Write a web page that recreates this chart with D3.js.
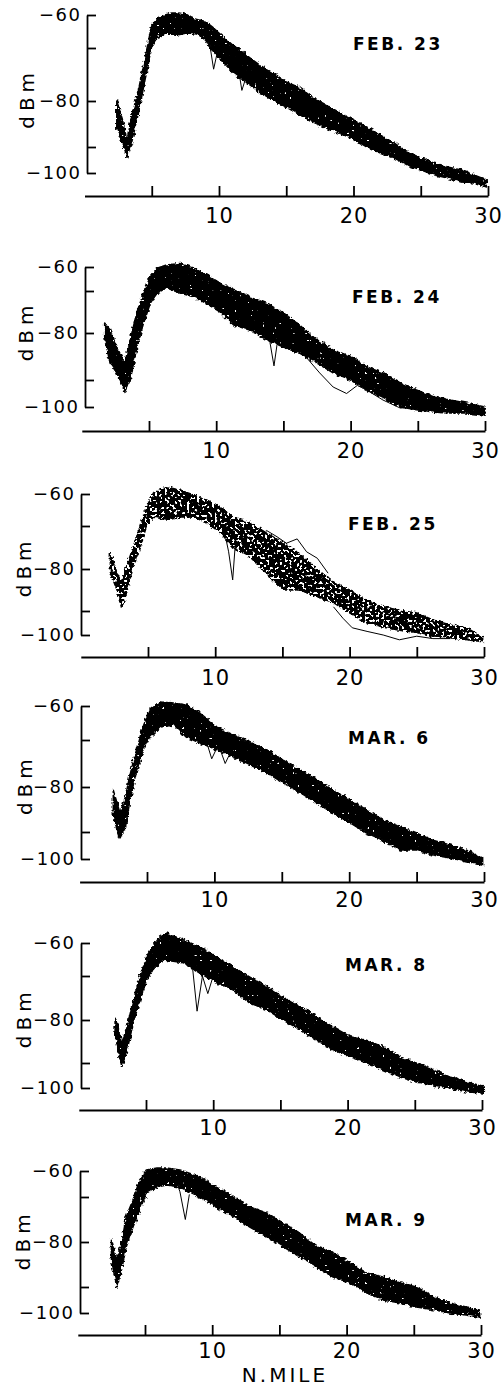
<!DOCTYPE html>
<html><head><meta charset="utf-8">
<script src="https://cdn.jsdelivr.net/npm/d3@7"></script>
<style>
html,body{margin:0;padding:0;background:#fff;}
svg{display:block;}
.yax text{font-family:"DejaVu Sans",sans-serif;font-size:18px;letter-spacing:1.5px;fill:#000;}
.xax text{font-family:"DejaVu Sans",sans-serif;font-size:21px;letter-spacing:1px;fill:#000;}
.yax path,.yax line,.xax path,.xax line{stroke:#000;stroke-width:1.8px;}
</style></head>
<body>
<svg id="c" width="504" height="1387"></svg>
<script>
// ---- data ----
const dates = ["FEB. 23","FEB. 24","FEB. 25","MAR. 6","MAR. 8","MAR. 9"];
const yTickValues = [-60,-70,-80,-90,-100];
const xTickValues = [5,10,15,20,25,30];
const xLabel = "N.MILE";
const yLabel = "dBm";

// upper (hi) and lower (lo) edge of the bundle of traces, dBm vs nautical miles
const dist1 = [2.4,2.8,3.15,3.5,4,4.5,5,5.5,6,6.5,7,7.5,8,8.5,9,9.5,10,11,12,13,14,15,16,17,18,19,20,21,22,23,24,25,26,27,28,29,29.9];
const hi1 = [-80,-83.8,-88.7,-83.3,-78.1,-71.9,-63,-61,-60,-59.4,-59.4,-59.8,-61,-61.5,-62,-63.6,-65.5,-69,-71.3,-73.2,-74.7,-76.4,-77.5,-79.4,-80.9,-82.6,-84.1,-85.7,-87.4,-89.1,-91.9,-94.2,-96.2,-97.7,-98.8,-100.8,-102.7];
const lo1 = [-86,-89.1,-93.8,-89.1,-82.8,-76,-69.7,-66.7,-65.5,-65.5,-66,-65.5,-65.5,-66,-67.6,-70.4,-71.9,-74.5,-76.4,-78.3,-79.8,-81.3,-83,-84.6,-85.9,-87,-88.3,-90,-92.3,-94.2,-96.9,-98.8,-100.8,-101.9,-103.5,-103.8,-105.4];

const dist2 = [1.7,2.1,2.6,3.2,3.6,4.1,4.6,5.1,5.6,6.3,7.3,8.3,9.3,10.3,11.3,12.5,13.8,15,16.2,17.5,18.7,20,21.2,22.4,23.7,24.9,26.2,27.4,28.6,30];
const hi2 = [-77.6,-79.3,-83,-86.4,-81.5,-75,-70.5,-64,-60.5,-59.2,-58.5,-60.5,-63.3,-66.7,-69.6,-71.4,-73,-75.2,-78.1,-81.5,-83.6,-85,-87.2,-88.5,-91.1,-93.7,-96.3,-97.4,-98.5,-100];
const lo2 = [-81,-86.4,-88.5,-94.3,-90,-83,-77.6,-72.9,-70.5,-68.7,-70.5,-71.4,-73,-75,-78.1,-79.3,-81.5,-83,-84.3,-86.4,-88.5,-90,-93.7,-96.3,-100,-101,-101.9,-102.2,-102.2,-103];

const dist3 = [2.2,2.7,3.04,3.4,3.9,4.4,4.9,5.4,6.4,7.4,8.4,9.4,10.4,11.3,12.6,13.8,15.1,16.3,17.6,18.8,20,21.3,22.5,23.7,25,26.2,27.5,28.7,29.9];
const hi3 = [-76.3,-81,-83.3,-79.5,-74.9,-70.2,-64,-59.7,-57.8,-58.8,-60.3,-61.9,-64,-67.2,-69,-71.6,-74,-76.5,-80,-83.3,-85,-87.4,-89,-89.8,-90.8,-93.7,-95.8,-97,-100.8];
const lo3 = [-81,-85,-89.3,-85.7,-79.5,-74.9,-70,-67.2,-68.1,-67.2,-67.2,-69,-71.6,-74.9,-77.2,-81,-85,-85,-86.7,-88,-90.8,-95,-96.7,-98,-99,-100.8,-101.2,-102,-102.8];

const dist4 = [2.5,3,3.4,3.7,4.2,4.7,5.2,6,7,7.9,8.9,10.2,11.4,12.6,13.9,15.1,16.4,17.6,18.8,20.1,21.3,22.5,23.8,25,26.2,27.5,28.7,29.9];
const hi4 = [-80.7,-85.8,-82.2,-77.9,-72.1,-66.2,-61.2,-58.8,-59.1,-59.7,-62,-66.2,-68.5,-70.4,-72.1,-74.3,-76.4,-78.5,-80.7,-82.9,-85.1,-87.3,-88.9,-90.4,-93,-94.8,-96.7,-99.6];
const lo4 = [-86.7,-92.2,-88.9,-83.6,-77,-72.1,-69.1,-66.2,-65.6,-69.1,-70.6,-72.1,-73.6,-75.3,-77,-79.1,-81.3,-83.6,-85.8,-88,-90.4,-93,-96.7,-96.7,-98.5,-99.6,-101.1,-102.2];

const dist5 = [2.7,3.2,3.6,4.05,4.55,5.05,5.5,6,6.5,7.8,9,10.3,11.5,12.7,14,15.2,16.5,17.7,18.9,20.2,21.4,22.7,23.9,25.1,26.4,27.6,28.9,30.1];
const hi5 = [-79.3,-85.3,-81.6,-75.5,-70.2,-64.2,-61.2,-58.2,-57,-59.1,-61.2,-64.2,-67.3,-70.2,-72.5,-74.8,-77,-79.3,-81.6,-83.9,-84.7,-86.3,-88.6,-90,-92.8,-95.6,-97.6,-99.6];
const lo5 = [-83,-91.6,-86.9,-80.7,-75.5,-70.9,-68.2,-66,-65.2,-66,-69.1,-71.6,-73.2,-76.1,-77.7,-80,-82.3,-84.7,-86.9,-88.6,-90,-92.8,-95.6,-97.6,-98.8,-100,-101.6,-102];

const dist6 = [2.5,2.9,3.3,3.6,4.1,4.6,5.1,5.9,6.6,7.6,9.1,10.3,11.6,12.8,14.1,15.3,16.5,17.8,19,20.3,21.5,22.7,24,25.2,26.5,27.7,28.9,29.9];
const hi6 = [-79.6,-84,-79.6,-74.4,-70.7,-63.5,-59.6,-58.8,-58.8,-59.6,-62.3,-66.2,-70,-72.2,-73.6,-75.8,-78,-81.1,-82.4,-84.7,-86.9,-87.8,-89.1,-90,-93.8,-96.2,-97.7,-98.8];
const lo6 = [-84,-90,-85.6,-81.1,-76.7,-72.9,-68.5,-66.2,-65.4,-66.2,-70,-72.2,-74.4,-76.7,-78.9,-81.1,-83.3,-85.6,-87.8,-89.1,-92.3,-95,-96.2,-97.7,-98.8,-100,-100.8,-101.5];

// stray single traces that leave the bundle
const strayDist1 = [9.2,9.6,10.0,10.6,11.2,11.7,12.2];
const strayVal1  = [-66,-74,-69,-72,-70,-78,-74];
const strayDist2 = [13.6,14.0,14.3,14.6,15.0];
const strayVal2  = [-80,-82,-87,-81,-82];
const lowDist2   = [16.5,17.7,18.7,19.7,20.5,21.2,22.4,23.7,24.8];
const lowVal2    = [-84.5,-88.5,-92.6,-95,-92,-93.7,-97.4,-100.4,-100];
const strayDist3 = [10.6,11.0,11.3,11.5,11.8];
const strayVal3  = [-70,-76,-82.6,-74,-74];
const lowDist3   = [18.8,19.5,20.2,21.3,22.5,23.7,25,26.2,27.5];
const lowVal3    = [-89,-93,-97,-98.5,-100,-102,-100.5,-101.5,-101.5];
const highDist3  = [13.8,14.6,15.3,16.1,16.8,17.6,18.4];
const highVal3   = [-71,-72.5,-74,-73,-76,-77.5,-81];
const strayDist4 = [9.3,9.8,10.3,10.8,11.3];
const strayVal4  = [-69,-74,-71,-75,-72];
const strayDist5 = [8.4,8.8,9.2,9.6,10.0];
const strayVal5  = [-65,-78,-70,-74,-70];
const strayDist6 = [7.2,7.6,8.0,8.3];
const strayVal6  = [-62,-68,-75,-69];

const series = [[dist1,hi1,lo1],[dist2,hi2,lo2],[dist3,hi3,lo3],[dist4,hi4,lo4],[dist5,hi5,lo5],[dist6,hi6,lo6]];
const strays = [
  [[strayDist1,strayVal1]],
  [[strayDist2,strayVal2],[lowDist2,lowVal2]],
  [[strayDist3,strayVal3],[lowDist3,lowVal3],[highDist3,highVal3]],
  [[strayDist4,strayVal4]],
  [[strayDist5,strayVal5]],
  [[strayDist6,strayVal6]]
];

// ---- layout ----
const layout = [
 {yr:[15,48,101,147,173],    xr:[84.5,488], axisY:196,  yAxisX:87, pad:12, dateX:353, dateY:50,   dbmX:34, tex:"rough"},
 {yr:[267,291,333,380,407],  xr:[81.8,485], axisY:431,  yAxisX:85, pad:12, dateX:352, dateY:303,  dbmX:33, tex:"rough"},
 {yr:[494,526,569,611,635],  xr:[80.8,484], axisY:657,  yAxisX:81, pad:13, dateX:348, dateY:530,  dbmX:31, tex:"mesh"},
 {yr:[706,740,787,832,859],  xr:[79.6,484], axisY:882,  yAxisX:81, pad:10, dateX:348, dateY:744,  dbmX:32, tex:"rough"},
 {yr:[943,976,1020,1063,1088],xr:[78.8,482],axisY:1110, yAxisX:81, pad:10, dateX:345, dateY:971,  dbmX:31, tex:"rough"},
 {yr:[1171,1197,1242,1287,1313],xr:[77.8,481],axisY:1335,yAxisX:80, pad:8, dateX:345, dateY:1226, dbmX:30, tex:"rough"}
];

const svg = d3.select("#c");
svg.append("rect").attr("width",504).attr("height",1387).attr("fill","#fff");

const defs = svg.append("defs");
function makeFilter(id, holeA, holeB){
  const f = defs.append("filter").attr("id",id).attr("filterUnits","userSpaceOnUse")
    .attr("x",0).attr("y",0).attr("width",504).attr("height",1387);
  f.append("feTurbulence").attr("type","fractalNoise").attr("baseFrequency","0.3").attr("numOctaves",2).attr("seed",4).attr("result","n");
  f.append("feDisplacementMap").attr("in","SourceGraphic").attr("in2","n").attr("scale",5)
    .attr("xChannelSelector","R").attr("yChannelSelector","G").attr("result","d");
  f.append("feTurbulence").attr("type","fractalNoise").attr("baseFrequency","0.4").attr("numOctaves",1).attr("seed",11).attr("result","h");
  f.append("feColorMatrix").attr("in","h").attr("type","matrix")
    .attr("values",`0 0 0 0 0  0 0 0 0 0  0 0 0 0 0  ${holeA} 0 0 0 ${holeB}`).attr("result","hm");
  f.append("feComposite").attr("in","d").attr("in2","hm").attr("operator","in");
}
makeFilter("rough", -30, 22.5);
makeFilter("mesh", -30, 18.5);

layout.forEach((L,i)=>{
  const x = d3.scaleLinear().domain([0,30]).range(L.xr);
  const y = d3.scaleLinear().domain(yTickValues).range(L.yr);
  const g = svg.append("g");

  const [ds,hs,ls] = series[i];
  const rows = ds.map((d,k)=>({d, hi:hs[k], lo:ls[k]}));
  const area = d3.area().x(r=>x(r.d)).y0(r=>y(r.lo)).y1(r=>y(r.hi)).curve(d3.curveLinear);
  g.append("path").datum(rows).attr("d",area).attr("fill","#000")
    .attr("stroke","#000").attr("stroke-width",1.5).attr("stroke-linejoin","round")
    .attr("filter",`url(#${L.tex})`);

  const line = d3.line().x(p=>x(p[0])).y(p=>y(p[1])).curve(d3.curveLinear);
  strays[i].forEach(([sd,sv])=>{
    g.append("path").datum(sd.map((d,k)=>[d,sv[k]])).attr("d",line)
      .attr("fill","none").attr("stroke","#000").attr("stroke-width",1);
  });

  // y axis
  g.append("g").attr("class","yax").attr("transform",`translate(${L.yAxisX},0)`)
    .call(d3.axisLeft(y).tickValues(yTickValues).tickSize(-9).tickSizeOuter(0).tickPadding(5.5)
      .tickFormat(v => v % 20 === 0 ? d3.format("")(v) : ""));
  // x axis
  g.append("g").attr("class","xax").attr("transform",`translate(0,${L.axisY})`)
    .call(d3.axisBottom(x).tickValues(xTickValues).tickSize(-10).tickSizeOuter(0).tickPadding(L.pad)
      .tickFormat(v => v % 10 === 0 ? v : ""));

  g.append("text").attr("transform",`translate(${L.dbmX},${y(-79.5)}) rotate(-90)`)
    .attr("text-anchor","middle").style("font-family","DejaVu Sans").style("font-size","20px")
    .style("letter-spacing","5px").text(yLabel);

  g.append("text").attr("x",L.dateX).attr("y",L.dateY)
    .style("font-family","DejaVu Sans").style("font-weight","bold").style("font-size","17px")
    .style("letter-spacing","2.5px").text(dates[i]);
});

svg.append("text").attr("x",285).attr("y",1382).attr("text-anchor","middle")
  .style("font-family","DejaVu Sans").style("font-size","20px").style("letter-spacing","3px").text(xLabel);
</script>
</body></html>
